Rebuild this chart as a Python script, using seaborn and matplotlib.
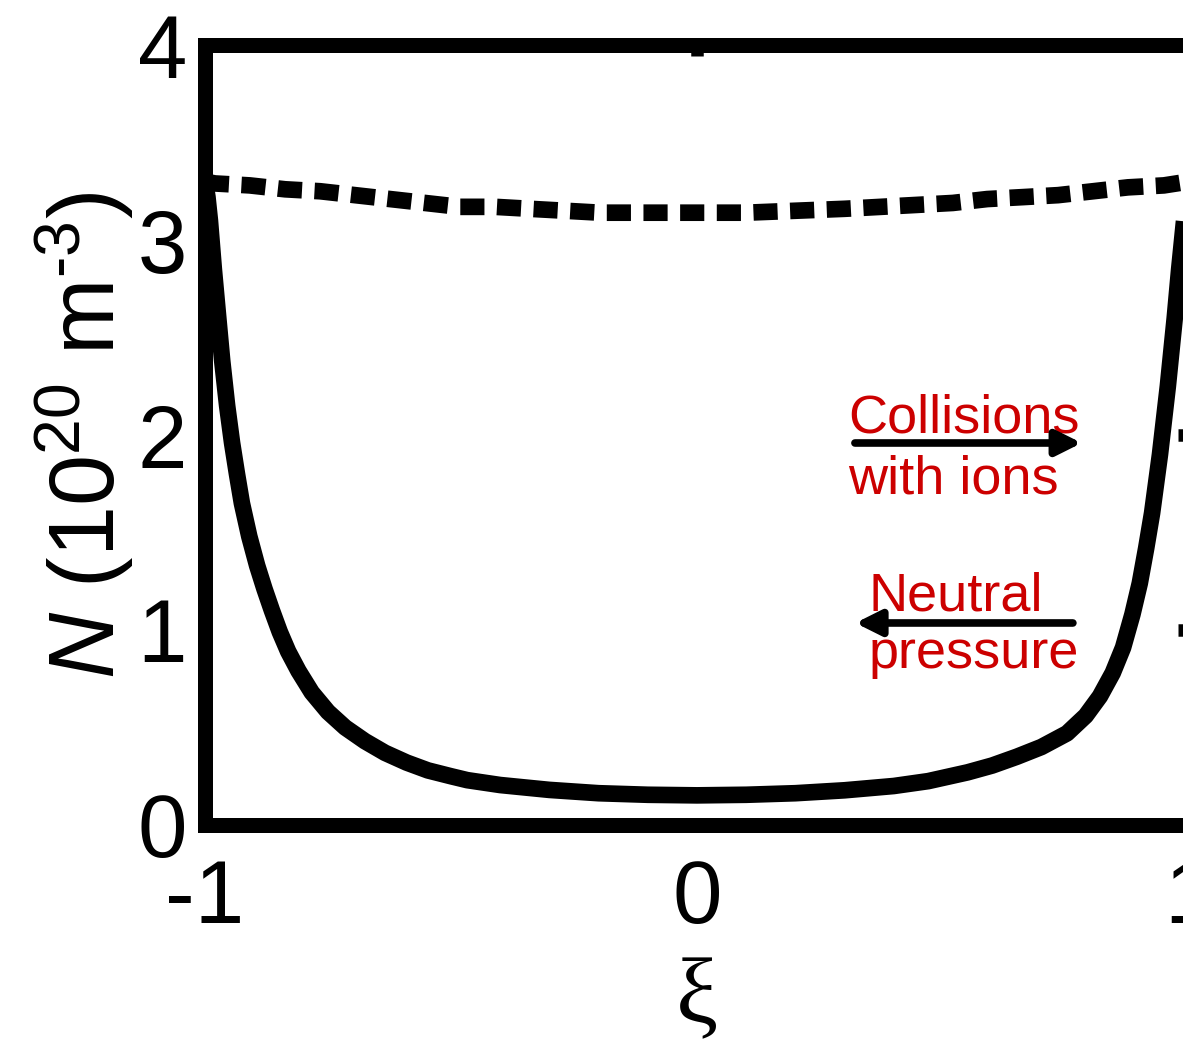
import numpy as np
import pandas as pd
import matplotlib
matplotlib.use("Agg")
import matplotlib.pyplot as plt
import seaborn as sns

# ---- data ----
xi_solid = [-1.0, -0.995, -0.99, -0.982, -0.973, -0.965, -0.955, -0.945, -0.935,
            -0.925, -0.91, -0.894, -0.879, -0.864, -0.848, -0.831, -0.81, -0.783,
            -0.75, -0.715, -0.675, -0.634, -0.59, -0.547, -0.50, -0.467, -0.40,
            -0.30, -0.20, -0.10, 0.0, 0.10, 0.20, 0.30, 0.40, 0.47, 0.55, 0.60,
            0.65, 0.70, 0.752, 0.79, 0.819, 0.845, 0.866, 0.885, 0.90, 0.913,
            0.925, 0.941, 0.957, 0.971, 0.98, 0.99, 1.0]
n_solid = [3.30, 3.22, 3.10, 2.85, 2.60, 2.38, 2.15, 1.96, 1.80,
           1.65, 1.48, 1.33, 1.21, 1.10, 0.99, 0.89, 0.79, 0.68,
           0.58, 0.50, 0.43, 0.37, 0.32, 0.28, 0.25, 0.23, 0.205,
           0.18, 0.163, 0.155, 0.152, 0.155, 0.163, 0.178, 0.20, 0.225, 0.27, 0.305,
           0.35, 0.40, 0.47, 0.56, 0.66, 0.78, 0.91, 1.08, 1.24, 1.42,
           1.60, 1.90, 2.25, 2.60, 2.85, 3.10, 3.30]

xi_dashed = [-1.0, -0.98, -0.909, -0.837, -0.766, -0.695, -0.624, -0.553, -0.482,
             -0.41, -0.34, -0.268, -0.197, -0.126, -0.055, 0.1, 0.2, 0.3,
             0.447, 0.52, 0.59, 0.663, 0.734, 0.805, 0.876, 0.949, 1.0]
n_dashed = [3.30, 3.29, 3.28, 3.26, 3.25, 3.23, 3.21, 3.19, 3.17,
            3.17, 3.16, 3.15, 3.14, 3.14, 3.14, 3.14, 3.15, 3.16,
            3.18, 3.19, 3.21, 3.22, 3.23, 3.25, 3.27, 3.28, 3.30]

x_ticks = [-1, 0, 1]
x_tick_labels = ["-1", "0", "1"]
y_ticks = [0, 1, 2, 3, 4]
y_tick_labels = ["0", "1", "2", "3", "4"]

ylabel_text = r"$\mathit{N}\ (10^{20}\ \mathrm{m}^{\text{-3}})$"
xlabel_text = "ξ"
ann_collisions = ["Collisions", "with ions"]
ann_neutral = ["Neutral", "pressure"]

# ---- style ----
sns.set_style("white")
plt.rcParams["font.family"] = ["Liberation Sans", "DejaVu Sans"]
plt.rcParams["mathtext.fontset"] = "custom"
plt.rcParams["mathtext.rm"] = "Liberation Sans"
plt.rcParams["mathtext.it"] = "Liberation Sans:italic"
plt.rcParams["mathtext.bf"] = "Liberation Sans:bold"
plt.rcParams["axes.unicode_minus"] = False
plt.rcParams["lines.scale_dashes"] = True

W, H = 1183, 1044
fig = plt.figure(figsize=(W / 100, H / 100), dpi=100)
fig.patch.set_facecolor("white")
ax = fig.add_axes([205 / W, 219 / H, 984 / W, 780 / H])
ax.set_facecolor("white")

df_s = pd.DataFrame({"xi": xi_solid, "N": n_solid})
df_d = pd.DataFrame({"xi": xi_dashed, "N": n_dashed})

sns.lineplot(data=df_s, x="xi", y="N", ax=ax, color="black", linewidth=12,
             estimator=None, sort=False)
sns.lineplot(data=df_d, x="xi", y="N", ax=ax, color="black", linewidth=12,
             estimator=None, sort=False)
dline = ax.lines[-1]
dline.set_linestyle((0, (1.45, 0.75)))
dline.set_dash_capstyle("butt")
ax.lines[0].set_solid_joinstyle("round")
ax.lines[0].set_solid_capstyle("butt")

ax.set_xlim(-1, 1)
ax.set_ylim(0, 4)
ax.set_xticks(x_ticks, x_tick_labels)
ax.set_yticks(y_ticks, y_tick_labels)
ax.tick_params(direction="in", length=8, width=9, top=True, right=True,
               labelsize=64, color="black", labelcolor="black")
ax.tick_params(axis="x", pad=24)
ax.tick_params(axis="y", pad=13)
for s in ax.spines.values():
    s.set_visible(True)
    s.set_linewidth(10.8)
    s.set_color("black")

ax.set_ylabel(ylabel_text, fontsize=66, labelpad=1, color="black")
ax.set_xlabel(xlabel_text, fontsize=68, labelpad=11, color="black",
              family=["Liberation Serif", "DejaVu Serif"])

red = "#CC0000"
ax.text(0.307, 2.015, ann_collisions[0], color=red, fontsize=39, ha="left", va="baseline")
ax.text(0.307, 1.70, ann_collisions[1], color=red, fontsize=39, ha="left", va="baseline")
ax.text(0.348, 1.10, ann_neutral[0], color=red, fontsize=39, ha="left", va="baseline")
ax.text(0.348, 0.805, ann_neutral[1], color=red, fontsize=39, ha="left", va="baseline")

arrow_kw = dict(arrowstyle="-|>,head_length=15,head_width=7.5", lw=5.5, color="black",
                shrinkA=0, shrinkB=0, mutation_scale=1)
ax.annotate("", xy=(0.782, 1.959), xytext=(0.321, 1.959), arrowprops=arrow_kw)
ax.annotate("", xy=(0.322, 1.036), xytext=(0.764, 1.036), arrowprops=arrow_kw)

fig.savefig("out.png", dpi=100, facecolor="white")
